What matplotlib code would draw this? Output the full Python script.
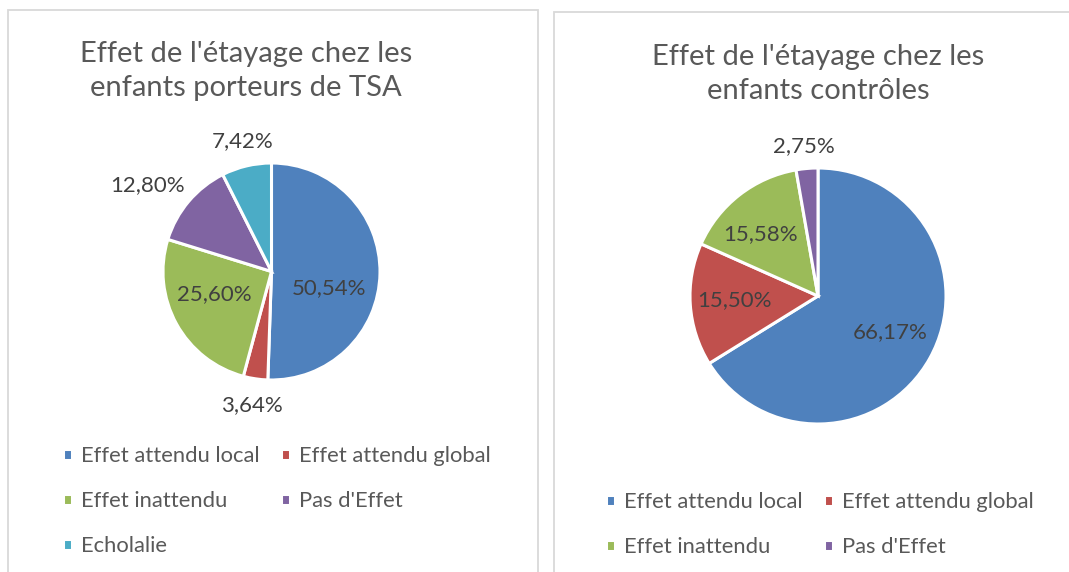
import numpy as np
import matplotlib.pyplot as plt
from matplotlib.patches import Rectangle

plt.rcParams['font.family'] = ['Lato', 'DejaVu Sans']

W, H = 1069, 572

categories = ["Effet attendu local", "Effet attendu global", "Effet inattendu",
              "Pas d'Effet", "Echolalie"]
colors = ['#4F81BD', '#C0504D', '#9BBB59', '#8064A2', '#4BACC6']

tsa_values = [50.54, 3.64, 25.60, 12.80, 7.42]
ctrl_values = [66.17, 15.50, 15.58, 2.75]

title_tsa = "Effet de l'étayage chez les\nenfants porteurs de TSA"
title_ctrl = "Effet de l'étayage chez les\nenfants contrôles"

# label placement (radius factor, angle nudge in degrees) per slice
tsa_lab = [(0.556, -15), (1.243, 0), (0.569, -7.6), (1.397, 5.4), (1.233, -0.7)]
ctrl_lab = [(0.628, 2.7), (0.65, -1.2), (0.66, 5), (1.177, 0.3)]


def px_axes(fig, cx, cy, r):
    return fig.add_axes([(cx - r) / W, 1 - (cy + r) / H, 2 * r / W, 2 * r / H])


def draw_pie(ax, values, lab):
    wedges, _ = ax.pie(values, colors=colors[:len(values)], startangle=90,
                       counterclock=False, radius=1,
                       wedgeprops=dict(edgecolor='white', linewidth=2.2))
    ax.set_xlim(-1, 1)
    ax.set_ylim(-1, 1)
    ax.set_aspect('equal')
    ax.axis('off')
    for w, v, (rf, dt) in zip(wedges, values, lab):
        th = np.deg2rad((w.theta1 + w.theta2) / 2 + dt)
        txt = f"{v:.2f}%".replace('.', ',')
        ax.text(rf * np.cos(th), rf * np.sin(th), txt, ha='center', va='center',
                fontsize=16, color='#404040', clip_on=False)
    return wedges


fig = plt.figure(figsize=(W / 100, H / 100), dpi=100)
fig.patch.set_facecolor('white')

# panel frames
for x0, x1, y0 in [(8, 538, 9.5), (553.5, 1090, 12)]:
    fig.add_artist(Rectangle((x0 / W, -0.05), (x1 - x0) / W, 1 - y0 / H + 0.05,
                             transform=fig.transFigure, fill=False,
                             edgecolor='#D9D9D9', linewidth=1.3))

fig.text(246 / W, 1 - 71 / H, title_tsa, ha='center', va='center', fontsize=21,
         color='#595959', linespacing=1.42)
fig.text(818 / W, 1 - 74 / H, title_ctrl, ha='center', va='center', fontsize=21,
         color='#595959', linespacing=1.42)

ax1 = px_axes(fig, 271.5, 271.5, 108.5)
w1 = draw_pie(ax1, tsa_values, tsa_lab)
ax2 = px_axes(fig, 818, 296, 128)
w2 = draw_pie(ax2, ctrl_values, ctrl_lab)

leg_kw = dict(ncol=2, frameon=False, fontsize=15.8, labelcolor='#595959',
              handlelength=0.4, handleheight=0.4, handletextpad=0.4,
              columnspacing=1.0, labelspacing=1.15, borderpad=0, borderaxespad=0,
              loc='upper left')

order1 = [0, 2, 4, 1, 3]
fig.legend([w1[i] for i in order1], [categories[i] for i in order1],
           bbox_to_anchor=(63 / W, 1 - 446 / H), **leg_kw)
order2 = [0, 2, 1, 3]
fig.legend([w2[i] for i in order2], [categories[i] for i in order2],
           bbox_to_anchor=(606 / W, 1 - 492 / H), **leg_kw)

fig.savefig('out.png', dpi=100)
